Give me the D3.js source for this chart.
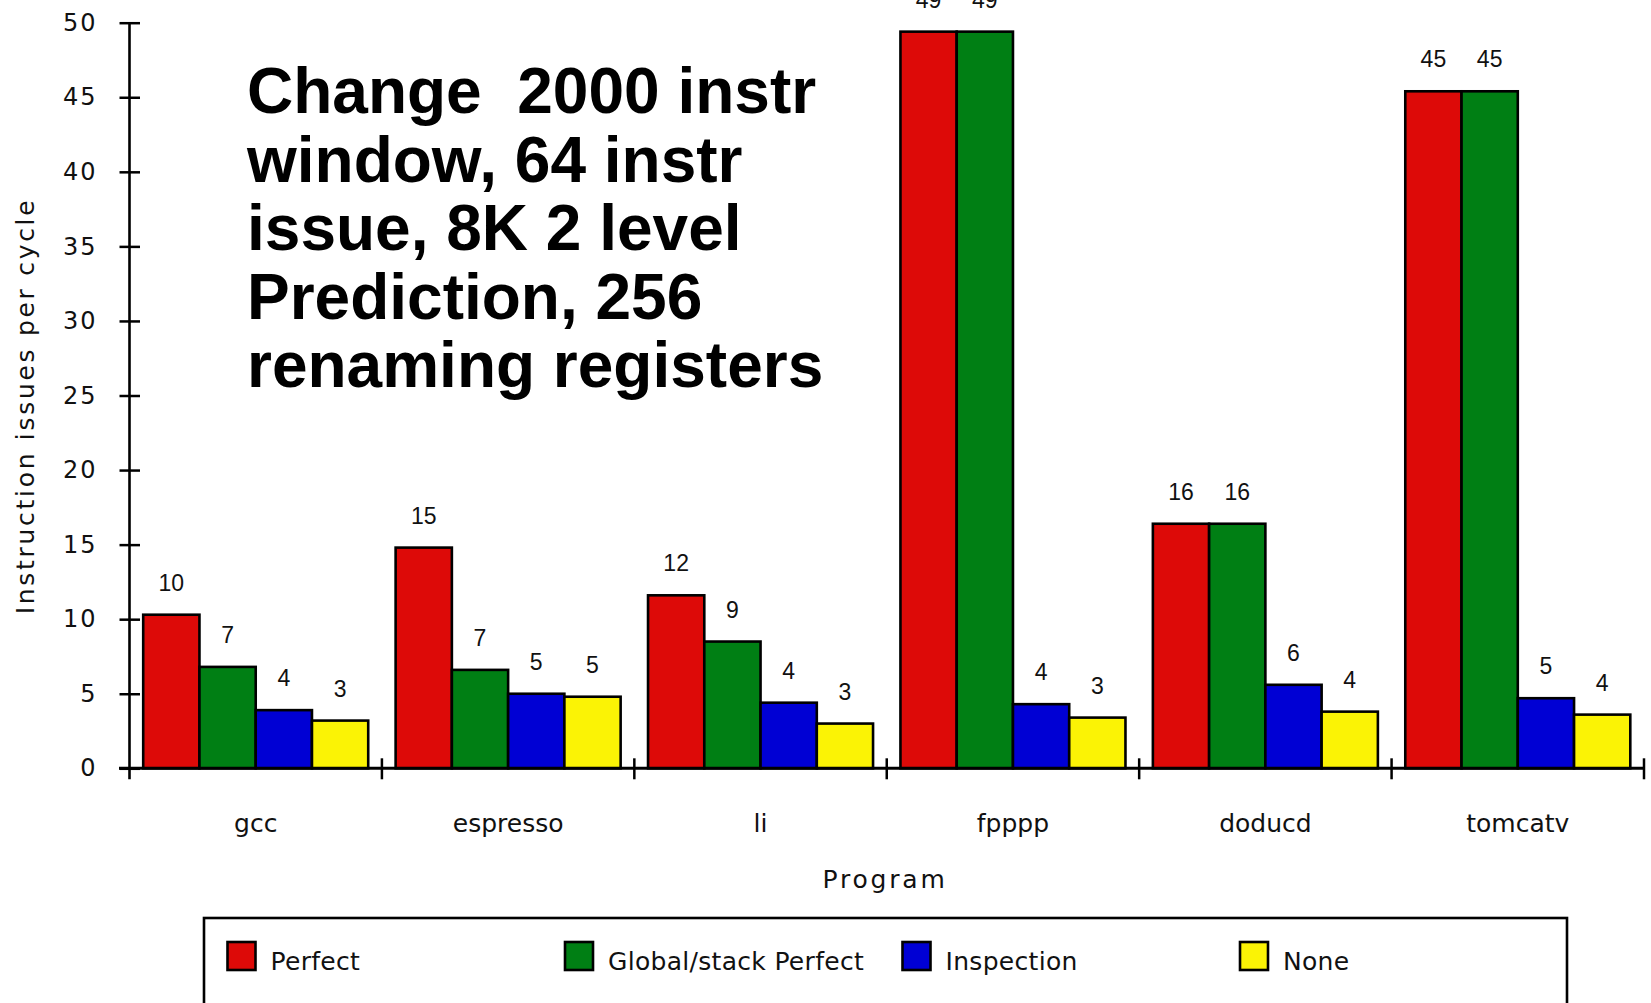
<!DOCTYPE html>
<html>
<head>
<meta charset="utf-8">
<script src="https://cdn.jsdelivr.net/npm/d3@7"></script>
<style>
  html, body { margin: 0; padding: 0; background: #ffffff; }
  svg { display: block; }
</style>
</head>
<body>
<script>
// Benchmark programs along the x axis
const programs = ["gcc", "espresso", "li", "fpppp", "doducd", "tomcatv"];

// Alias-analysis variants, one bar each per program
const seriesNames = ["Perfect", "Global/stack Perfect", "Inspection", "None"];

// Instruction issues per cycle for each variant
const perfect     = [10.3, 14.8, 11.6, 49.4, 16.4, 45.4];
const globalStack = [6.8, 6.6, 8.5, 49.4, 16.4, 45.4];
const inspection  = [3.9, 5.0, 4.4, 4.3, 5.6, 4.7];
const none        = [3.2, 4.8, 3.0, 3.4, 3.8, 3.6];

// Y axis tick values
const yTicks = [0, 5, 10, 15, 20, 25, 30, 35, 40, 45, 50];

// Annotation block in the plot area
const noteLines = [
  "Change  2000 instr",
  "window, 64 instr",
  "issue, 8K 2 level",
  "Prediction, 256",
  "renaming registers"
];

const seriesValues = [perfect, globalStack, inspection, none];
const seriesColors = ["#dd0a08", "#007f14", "#0000d4", "#fbf305"];

const W = 1651, H = 1003;
const svg = d3.select("body").append("svg")
  .attr("width", W).attr("height", H)
  .attr("viewBox", `0 0 ${W} ${H}`);

const plotLeft = 129.5, plotRight = 1644;
const y = d3.scaleLinear().domain([0, 50]).range([768.3, 22.7]);

const x = d3.scaleBand().domain(programs).range([plotLeft, plotRight]).padding(0);
const bw = x.bandwidth();
const xs = d3.scaleBand().domain(seriesNames).range([13.7, bw - 13.7]).padding(0);

const color = d3.scaleOrdinal().domain(seriesNames).range(seriesColors);

// Flatten into one record per bar
const bars = [];
programs.forEach((p, i) => {
  seriesNames.forEach((s, j) => {
    bars.push({ program: p, series: s, value: seriesValues[j][i] });
  });
});

const fmt = d3.format(".0f");

// Bars
svg.append("g").selectAll("rect")
  .data(bars)
  .join("rect")
  .attr("x", d => x(d.program) + xs(d.series))
  .attr("y", d => y(d.value))
  .attr("width", xs.bandwidth())
  .attr("height", d => y(0) - y(d.value))
  .attr("fill", d => color(d.series))
  .attr("stroke", "#000")
  .attr("stroke-width", 2.6);

// Value labels above the bars
svg.append("g").selectAll("text")
  .data(bars)
  .join("text")
  .attr("x", d => x(d.program) + xs(d.series) + xs.bandwidth() / 2)
  .attr("y", d => y(d.value) - 24)
  .attr("text-anchor", "middle")
  .attr("font-family", "'Liberation Sans', Arial, sans-serif")
  .attr("font-size", 23)
  .attr("fill", "#111")
  .text(d => fmt(d.value));

// Y axis
const yAxis = svg.append("g")
  .attr("transform", `translate(${plotLeft},0)`)
  .call(d3.axisLeft(y).tickValues(yTicks).tickSize(10).tickPadding(22).tickSizeOuter(0));
yAxis.select(".domain").remove();
yAxis.selectAll(".tick line")
  .attr("x1", 10.5)
  .attr("stroke", "#000")
  .attr("stroke-width", 2.5);
yAxis.selectAll(".tick text")
  .attr("font-family", "'DejaVu Sans', Verdana, sans-serif")
  .attr("font-size", 24)
  .attr("letter-spacing", 2)
  .attr("fill", "#111");
svg.append("line")
  .attr("x1", plotLeft).attr("x2", plotLeft)
  .attr("y1", y(50)).attr("y2", y(0) + 11)
  .attr("stroke", "#000").attr("stroke-width", 2.6);

// X axis: category labels at band centres
const xAxis = svg.append("g")
  .attr("transform", `translate(0,${y(0)})`)
  .call(d3.axisBottom(x).tickSize(0));
xAxis.select(".domain").remove();
xAxis.selectAll(".tick text")
  .attr("y", 64)
  .attr("dy", 0)
  .attr("font-family", "'DejaVu Sans', Verdana, sans-serif")
  .attr("font-size", 25)
  .attr("fill", "#111");

// X axis baseline and boundary ticks between groups
svg.append("line")
  .attr("x1", plotLeft - 10.5).attr("x2", plotRight)
  .attr("y1", y(0)).attr("y2", y(0))
  .attr("stroke", "#000").attr("stroke-width", 3);
const bounds = programs.map(p => x(p)).concat([x.range()[1]]);
svg.append("g").selectAll("line")
  .data(bounds.slice(1))
  .join("line")
  .attr("x1", d => d).attr("x2", d => d)
  .attr("y1", y(0) - 10).attr("y2", y(0) + 11)
  .attr("stroke", "#000").attr("stroke-width", 2.5);

// Axis titles
svg.append("text")
  .attr("transform", `translate(34,406) rotate(-90)`)
  .attr("text-anchor", "middle")
  .attr("font-family", "'DejaVu Sans', Verdana, sans-serif")
  .attr("font-size", 25)
  .attr("letter-spacing", 2.7)
  .attr("fill", "#111")
  .text("Instruction issues per cycle");

svg.append("text")
  .attr("x", 885)
  .attr("y", 888)
  .attr("text-anchor", "middle")
  .attr("font-family", "'DejaVu Sans', Verdana, sans-serif")
  .attr("font-size", 25)
  .attr("letter-spacing", 2.8)
  .attr("fill", "#111")
  .text("Program");

// Annotation
const note = svg.append("g")
  .attr("font-family", "'Liberation Sans', Arial, sans-serif")
  .attr("font-weight", "bold")
  .attr("font-size", 64)
  .attr("fill", "#000");
note.selectAll("text")
  .data(noteLines)
  .join("text")
  .attr("x", 247)
  .attr("y", (d, i) => 113 + i * 68.5)
  .style("white-space", "pre")
  .text(d => d);

// Legend
svg.append("rect")
  .attr("x", 204).attr("y", 918)
  .attr("width", 1363).attr("height", 140)
  .attr("fill", "none")
  .attr("stroke", "#000").attr("stroke-width", 2.6);

const legendX = d3.scalePoint().domain(seriesNames).range([227.5, 1240]);
const legend = svg.append("g").selectAll("g")
  .data(seriesNames)
  .join("g")
  .attr("transform", d => `translate(${legendX(d)},942)`);
legend.append("rect")
  .attr("width", 28).attr("height", 28)
  .attr("fill", d => color(d))
  .attr("stroke", "#000").attr("stroke-width", 2.6);
legend.append("text")
  .attr("x", 43)
  .attr("y", 28)
  .attr("font-family", "'DejaVu Sans', Verdana, sans-serif")
  .attr("font-size", 25)
  .attr("letter-spacing", 0.3)
  .attr("fill", "#111")
  .text(d => d);
</script>
</body>
</html>
